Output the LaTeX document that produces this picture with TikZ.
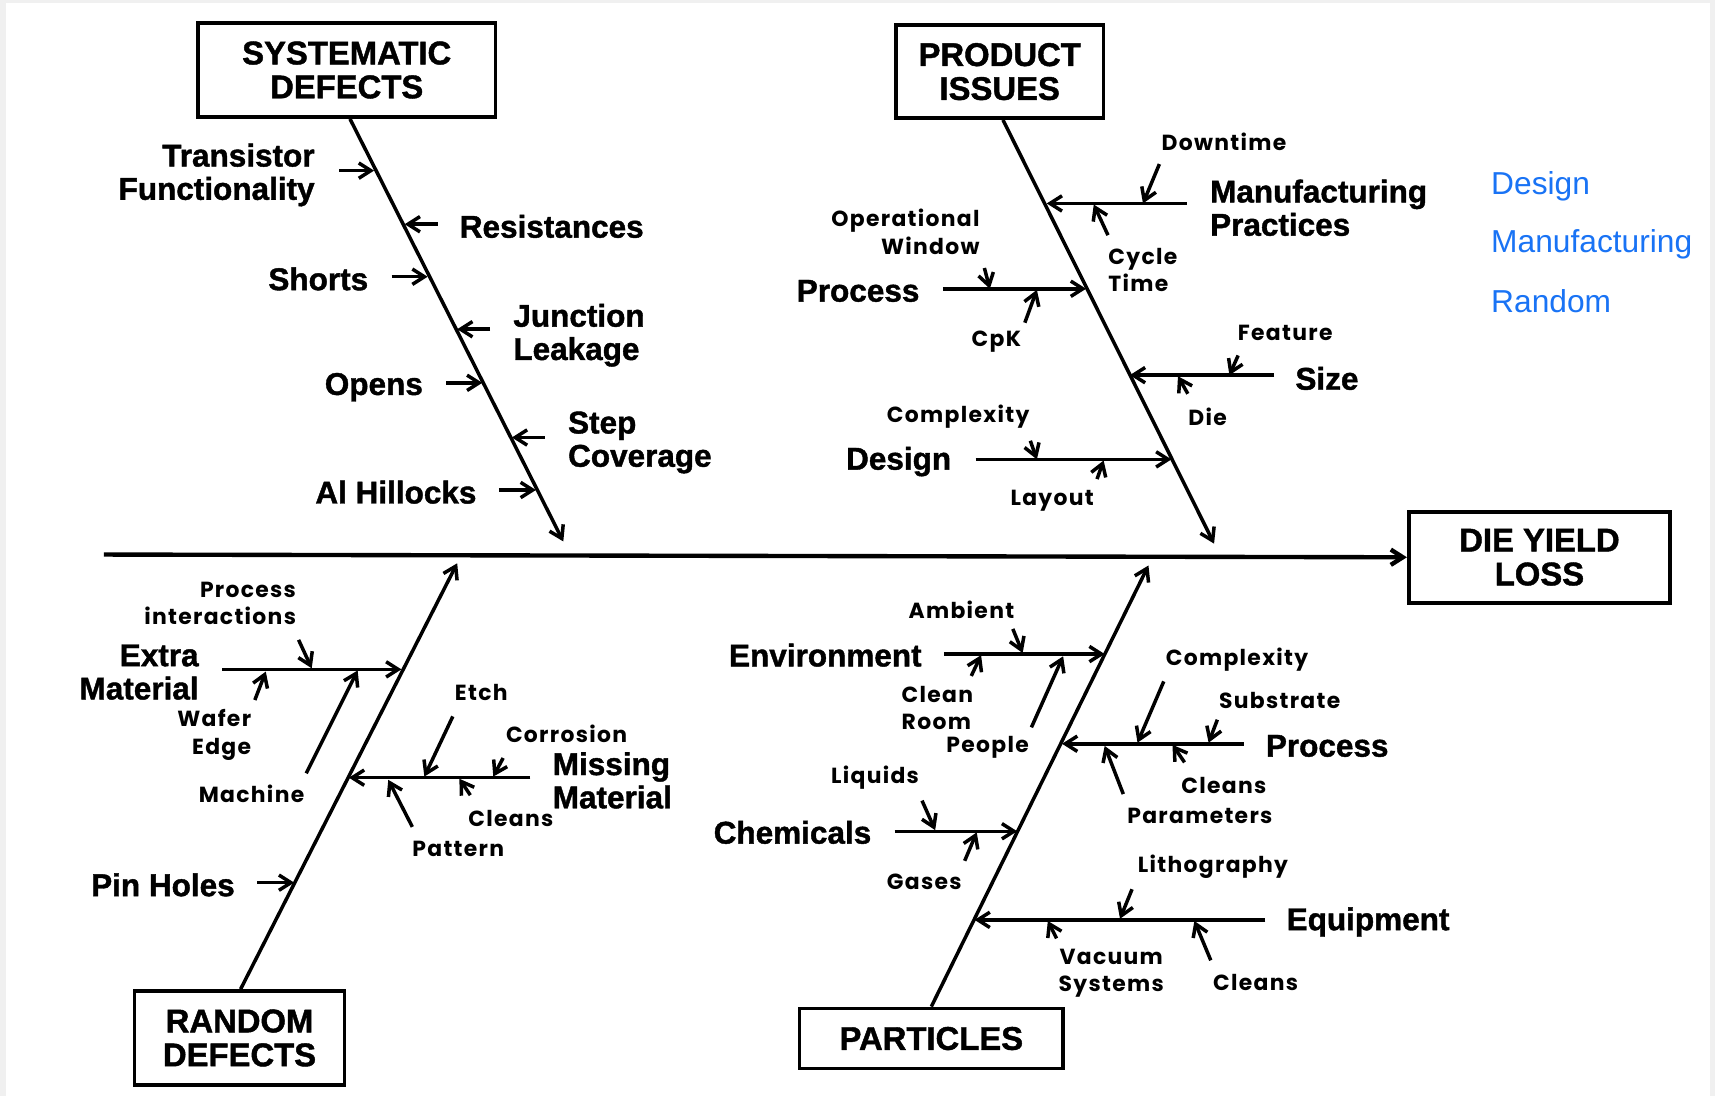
\documentclass[tikz,border=0pt]{standalone}
\usepackage{fontspec}
\setmainfont{Liberation Sans}[BoldFeatures={FakeBold=1.3}]
\newfontfamily\smallfont{Poppins}[LetterSpace=6]
\usetikzlibrary{arrows.meta}
\definecolor{legendblue}{RGB}{25,115,245}
\definecolor{framegray}{RGB}{240,240,240}

\begin{document}
\begin{tikzpicture}[x=0.5pt,y=-0.5pt,
  box/.style={draw,line width=1.7pt,font=\bfseries\fontsize{15}{15.5}\selectfont,align=center,inner sep=0pt},
  big/.style={font=\bfseries\fontsize{14.4}{15.2}\selectfont,inner sep=0pt},
  small/.style={font=\smallfont\bfseries\fontsize{10}{12.5}\selectfont,inner sep=0pt},
  legend/.style={font=\fontsize{14.5}{15}\selectfont,text=legendblue,inner sep=0pt,anchor=west},
  tip/.style={-{Straight Barb[length=5.5pt,width=7pt]}},
  spine/.style={line width=2pt,tip},
  bone/.style={line width=1.6pt,tip},
  twig/.style={line width=1.6pt,tip}]

% page frame
\fill[framegray] (0,0) rectangle (1568,1002);
\fill[white] (5.5,3) rectangle (1563,1002);
\useasboundingbox (0,0) rectangle (1568,1002);

% category boxes
\node[box,minimum width=136pt,minimum height=43pt] (sys) at (317,64) {SYSTEMATIC\\DEFECTS};
\node[box,minimum width=95pt,minimum height=42.5pt] (prod) at (914,65.5) {PRODUCT\\ISSUES};
\node[box,minimum width=119.5pt,minimum height=41.5pt] (die) at (1407.5,509.5) {DIE YIELD\\LOSS};
\node[box,minimum width=96pt,minimum height=43pt] (rnd) at (219,949) {RANDOM\\DEFECTS};
\node[box,minimum width=120.5pt,minimum height=27.5pt] (part) at (851.5,949.5) {PARTICLES};

% legend
\node[legend] (lgA) at (1363,170) {Design};
\node[legend] (lgB) at (1363,223) {Manufacturing};
\node[legend] (lgC) at (1363,275) {Random};

% main spine
\coordinate (spL) at (95,507);
\draw[spine] (spL) -- (die.west);

% bone tips on the spine
\coordinate (sysT) at (515,495);
\coordinate (prodT) at (1110,497);
\coordinate (rndT) at (418,515);
\coordinate (partT) at (1050,517);
\draw[bone] ([xshift=1.5pt]sys.south) -- (sysT);
\draw[bone] ([xshift=1.5pt]prod.south) -- (prodT);
\draw[bone] ([xshift=0.5pt]rnd.north) -- (rndT);
\draw[bone] (part.north) -- (partT);

% ---------- systematic defects ----------
\node[big,anchor=east,align=right] (tf) at (288,160) {Transistor\\Functionality};
\node[big,anchor=west] (res) at (420,207) {Resistances};
\node[big,anchor=east] (sho) at (337,255) {Shorts};
\node[big,anchor=west,align=left] (jl) at (469,306.5) {Junction\\Leakage};
\node[big,anchor=east] (ope) at (387,354) {Opens};
\node[big,anchor=west,align=left] (sc) at (519,404.5) {Step\\Coverage};
\node[big,anchor=east] (alh) at (436,450) {Al Hillocks};

\coordinate (s1a) at (310,156); \coordinate (s1b) at (342,156);
\coordinate (s2a) at (400,205); \coordinate (s2b) at (370,205);
\coordinate (s3a) at (358,253); \coordinate (s3b) at (391,253);
\coordinate (s4a) at (448,301); \coordinate (s4b) at (418,301);
\coordinate (s5a) at (408,350); \coordinate (s5b) at (441,350);
\coordinate (s6a) at (498,400); \coordinate (s6b) at (468,400);
\coordinate (s7a) at (456,448); \coordinate (s7b) at (490,448);
\foreach \k in {1,...,7} {\draw[twig] (s\k a) -- (s\k b);}

% ---------- product issues ----------
\node[big,anchor=west,align=left] (mp) at (1106,190) {Manufacturing\\Practices};
\node[small] (dt) at (1119,130) {Downtime};
\node[small,anchor=west,align=left] (ct) at (1013,247) {Cycle\\Time};
\node[big,anchor=east] (pp) at (841,266) {Process};
\node[small,anchor=east,align=right] (ow) at (896,212) {Operational\\Window};
\node[small] (cpk) at (911,312) {CpK};
\node[big,anchor=west] (sz) at (1184,346) {Size};
\node[small] (fe) at (1175,304) {Feature};
\node[small] (di) at (1104,381) {Die};
\node[big,anchor=east] (dsg) at (870,422) {Design};
\node[small] (cx) at (876,381) {Complexity};
\node[small] (lay) at (962,458) {Layout};

\coordinate (mpS) at (1085,186); \coordinate (mpT) at (957,186);
\coordinate (ppS) at (862,264);  \coordinate (ppT) at (993,264);
\coordinate (szS) at (1165,343); \coordinate (szT) at (1033,343);
\coordinate (dsS) at (892,420);  \coordinate (dsT) at (1071,420);
\draw[twig] (mpS) -- (mpT);
\draw[twig] (ppS) -- (ppT);
\draw[twig] (szS) -- (szT);
\draw[twig] (dsS) -- (dsT);

\coordinate (p1a) at (1060,150); \coordinate (p1b) at (1045,186);
\coordinate (p2a) at (1013,215); \coordinate (p2b) at (1000,187);
\coordinate (p3a) at (900,245);  \coordinate (p3b) at (905,264);
\coordinate (p4a) at (937,295);  \coordinate (p4b) at (948,265);
\coordinate (p5a) at (1132,325); \coordinate (p5b) at (1124,343);
\coordinate (p6a) at (1086,360); \coordinate (p6b) at (1077,344);
\coordinate (p7a) at (942,403);  \coordinate (p7b) at (948,420);
\coordinate (p8a) at (1003,438); \coordinate (p8b) at (1009,421);
\foreach \k in {1,...,8} {\draw[twig] (p\k a) -- (p\k b);}

% ---------- random defects ----------
\node[big,anchor=east,align=right] (em) at (182,614.5) {Extra\\Material};
\node[small,anchor=east,align=right] (pi) at (271,551.5) {Process\\interactions};
\node[small,anchor=east,align=right] (we) at (230,672) {Wafer\\Edge};
\node[small] (mac) at (230,726) {Machine};
\node[big,anchor=west,align=left] (mm) at (505,713.5) {Missing\\Material};
\node[small] (et) at (440,633) {Etch};
\node[small] (co) at (518,671) {Corrosion};
\node[small] (cl1) at (467,748) {Cleans};
\node[small] (pat) at (419,776) {Pattern};
\node[big,anchor=east] (ph) at (215,809) {Pin Holes};

\coordinate (emS) at (203,612); \coordinate (emT) at (367,612);
\coordinate (mmS) at (485,711); \coordinate (mmT) at (319,711);
\draw[twig] (emS) -- (emT);
\draw[twig] (mmS) -- (mmT);

\coordinate (r1a) at (273,585); \coordinate (r1b) at (285,611);
\coordinate (r2a) at (233,640); \coordinate (r2b) at (243,614);
\coordinate (r3a) at (280,707); \coordinate (r3b) at (327,613);
\coordinate (r4a) at (414,655); \coordinate (r4b) at (388,710);
\coordinate (r5a) at (460,693); \coordinate (r5b) at (451,710);
\coordinate (r6a) at (430,727); \coordinate (r6b) at (420,712);
\coordinate (r7a) at (377,756); \coordinate (r7b) at (355,713);
\coordinate (r8a) at (235,807); \coordinate (r8b) at (269,807);
\foreach \k in {1,...,8} {\draw[twig] (r\k a) -- (r\k b);}

% ---------- particles ----------
\node[big,anchor=east] (env) at (843,599) {Environment};
\node[small] (amb) at (879,558) {Ambient};
\node[small,anchor=west,align=left] (cr) at (824,647) {Clean\\Room};
\node[small] (peo) at (903,683) {People};
\node[big,anchor=west] (prc) at (1157,682) {Process};
\node[small] (cx2) at (1131,603) {Complexity};
\node[small] (sub) at (1170,640) {Substrate};
\node[small] (cl2) at (1119,718) {Cleans};
\node[small] (par) at (1097,746) {Parameters};
\node[big,anchor=east] (chm) at (797,761) {Chemicals};
\node[small] (liq) at (800,711) {Liquids};
\node[small] (gas) at (845,806) {Gases};
\node[big,anchor=west] (eqp) at (1176,843) {Equipment};
\node[small] (lit) at (1109,792) {Lithography};
\node[small,align=center] (vac) at (1016,890) {Vacuum\\Systems};
\node[small] (cl3) at (1148,898) {Cleans};

\coordinate (enS) at (863,598);  \coordinate (enT) at (1010,598);
\coordinate (prS) at (1137,680); \coordinate (prT) at (971,680);
\coordinate (chS) at (818,760);  \coordinate (chT) at (930,760);
\coordinate (eqS) at (1157,841); \coordinate (eqT) at (891,841);
\draw[twig] (enS) -- (enT);
\draw[twig] (prS) -- (prT);
\draw[twig] (chS) -- (chT);
\draw[twig] (eqS) -- (eqT);

\coordinate (q1a) at (926,575);  \coordinate (q1b) at (935,597);
\coordinate (q2a) at (888,618);  \coordinate (q2b) at (897,599);
\coordinate (q3a) at (943,665);  \coordinate (q3b) at (972,600);
\coordinate (q4a) at (1064,623); \coordinate (q4b) at (1040,679);
\coordinate (q5a) at (1113,658); \coordinate (q5b) at (1105,679);
\coordinate (q6a) at (1083,697); \coordinate (q6b) at (1072,681);
\coordinate (q7a) at (1027,726); \coordinate (q7b) at (1010,682);
\coordinate (q8a) at (843,732);  \coordinate (q8b) at (855,759);
\coordinate (q9a) at (882,787);  \coordinate (q9b) at (893,761);
\coordinate (q10a) at (1035,813); \coordinate (q10b) at (1024,840);
\coordinate (q11a) at (966,858);  \coordinate (q11b) at (958,842);
\coordinate (q12a) at (1107,878); \coordinate (q12b) at (1092,842);
\foreach \k in {1,...,12} {\draw[twig] (q\k a) -- (q\k b);}
\end{tikzpicture}
\end{document}
